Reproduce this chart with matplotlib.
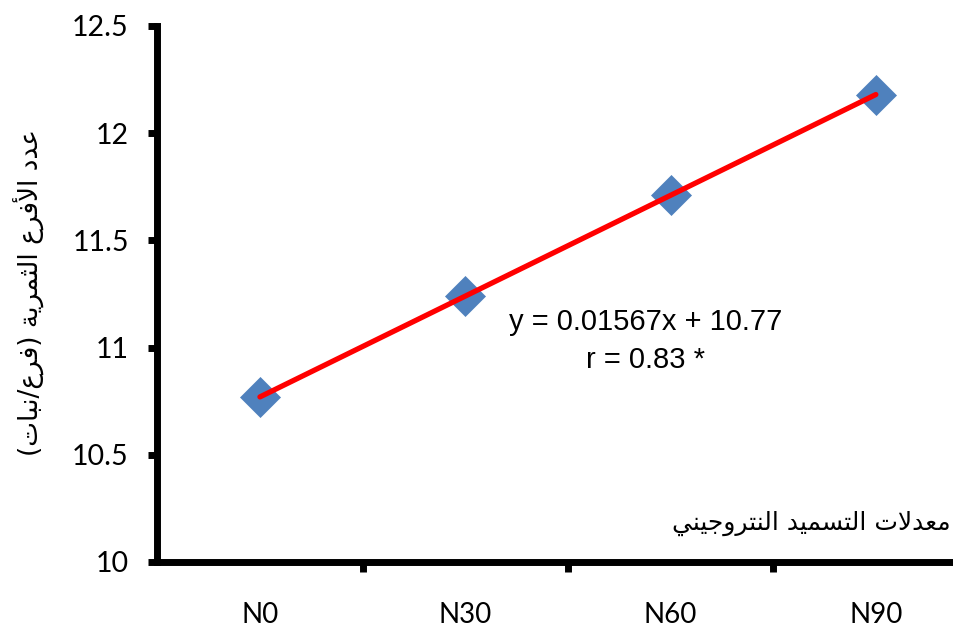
import matplotlib
matplotlib.use("Agg")
import matplotlib.pyplot as plt
from matplotlib.ticker import FixedLocator

# ---------------- data ----------------
categories = ["N0", "N30", "N60", "N90"]
n_rates = [0, 30, 60, 90]
branches = [10.77, 11.24, 11.71, 12.18]
slope = 0.01567
intercept = 10.77
eq_text = "y = 0.01567x + 10.77"
r_text = "r = 0.83 *"
y_ticks = [10, 10.5, 11, 11.5, 12, 12.5]
y_tick_labels = ["10", "10.5", "11", "11.5", "12", "12.5"]
ylabel_text = "عدد الأفرع الثمرية (فرع/نبات)"
xlabel_text = "معدلات التسميد النتروجيني"

# ---------------- minimal Arabic shaping (for matplotlib, which has no CTL) ----------------
FORMS = {
    'ا': ('\uFE8D', '\uFE8E', None, None),
    'أ': ('\uFE83', '\uFE84', None, None),
    'ب': ('\uFE8F', '\uFE90', '\uFE91', '\uFE92'),
    'ة': ('\uFE93', '\uFE94', None, None),
    'ت': ('\uFE95', '\uFE96', '\uFE97', '\uFE98'),
    'ث': ('\uFE99', '\uFE9A', '\uFE9B', '\uFE9C'),
    'ج': ('\uFE9D', '\uFE9E', '\uFE9F', '\uFEA0'),
    'د': ('\uFEA9', '\uFEAA', None, None),
    'ر': ('\uFEAD', '\uFEAE', None, None),
    'س': ('\uFEB1', '\uFEB2', '\uFEB3', '\uFEB4'),
    'ع': ('\uFEC9', '\uFECA', '\uFECB', '\uFECC'),
    'ف': ('\uFED1', '\uFED2', '\uFED3', '\uFED4'),
    'ل': ('\uFEDD', '\uFEDE', '\uFEDF', '\uFEE0'),
    'م': ('\uFEE1', '\uFEE2', '\uFEE3', '\uFEE4'),
    'ن': ('\uFEE5', '\uFEE6', '\uFEE7', '\uFEE8'),
    'و': ('\uFEED', '\uFEEE', None, None),
    'ي': ('\uFEF1', '\uFEF2', '\uFEF3', '\uFEF4'),
}
LAM_ALEF = {'ا': ('\uFEFB', '\uFEFC'), 'أ': ('\uFEF7', '\uFEF8')}
MIRROR = {'(': ')', ')': '('}


def shape_arabic(s):
    out = []
    prev_join = False
    i = 0
    n = len(s)
    while i < n:
        c = s[i]
        if c not in FORMS:
            out.append(c)
            prev_join = False
            i += 1
            continue
        nxt = s[i + 1] if i + 1 < n else ''
        if c == 'ل' and nxt in LAM_ALEF:
            out.append(LAM_ALEF[nxt][1 if prev_join else 0])
            prev_join = False
            i += 2
            continue
        dual = FORMS[c][2] is not None
        join_next = dual and nxt in FORMS
        iso, fin, ini, med = FORMS[c]
        if prev_join and join_next:
            g = med
        elif prev_join:
            g = fin
        elif join_next:
            g = ini
        else:
            g = iso
        out.append(g)
        prev_join = dual
        i += 1
    return ''.join(MIRROR.get(ch, ch) for ch in reversed(out))


# ---------------- figure ----------------
W, H = 954, 628
fig = plt.figure(figsize=(W / 100, H / 100), dpi=100)
ax = fig.add_axes([157.3 / W, 66 / H, 821.2 / W, 536 / H])

x = list(range(len(categories)))
blue = "#4F81BD"
ax.plot(x, branches, color=blue, lw=2.2, marker="D", ms=20.5,
        markerfacecolor=blue, markeredgecolor=blue, markeredgewidth=0.5,
        zorder=3, clip_on=False)

trend = [slope * n + intercept for n in n_rates]
ax.plot(x, trend, color="#FF0000", lw=3.8, solid_capstyle="round", zorder=4,
        clip_on=False)

ax.set_xlim(-0.5, len(categories) - 0.5)
ax.set_ylim(10, 12.5)

for s in ["top", "right"]:
    ax.spines[s].set_visible(False)
for s in ["left", "bottom"]:
    ax.spines[s].set_linewidth(5)
    ax.spines[s].set_color("black")
    ax.spines[s].set_capstyle("projecting")

ax.set_yticks(y_ticks)
ax.set_yticklabels(y_tick_labels, fontfamily="Lato", fontsize=20.5)
ax.tick_params(axis="y", direction="out", length=6.5, width=5, pad=14)

ax.set_xticks(x)
ax.set_xticklabels(categories, fontfamily="Lato", fontsize=20)
ax.tick_params(axis="x", which="major", length=0, pad=29)
ax.xaxis.set_minor_locator(FixedLocator([i + 0.5 for i in x[:-1]]))
ax.tick_params(axis="x", which="minor", direction="out", length=7, width=5)

ax.text(1.88, 11.12, eq_text, fontfamily="Liberation Sans", fontsize=21,
        ha="center", va="center")
ax.text(1.88, 10.94, r_text, fontfamily="Liberation Sans", fontsize=21,
        ha="center", va="center")

fig.text(29 / W, 1 - 293 / H, shape_arabic(ylabel_text), rotation=90,
         fontfamily="DejaVu Sans", fontsize=19, ha="center", va="center")
fig.text(951 / W, 1 - 523 / H, shape_arabic(xlabel_text),
         fontfamily="DejaVu Sans", fontsize=18, ha="right", va="center")

fig.savefig("out.png", dpi=100)
